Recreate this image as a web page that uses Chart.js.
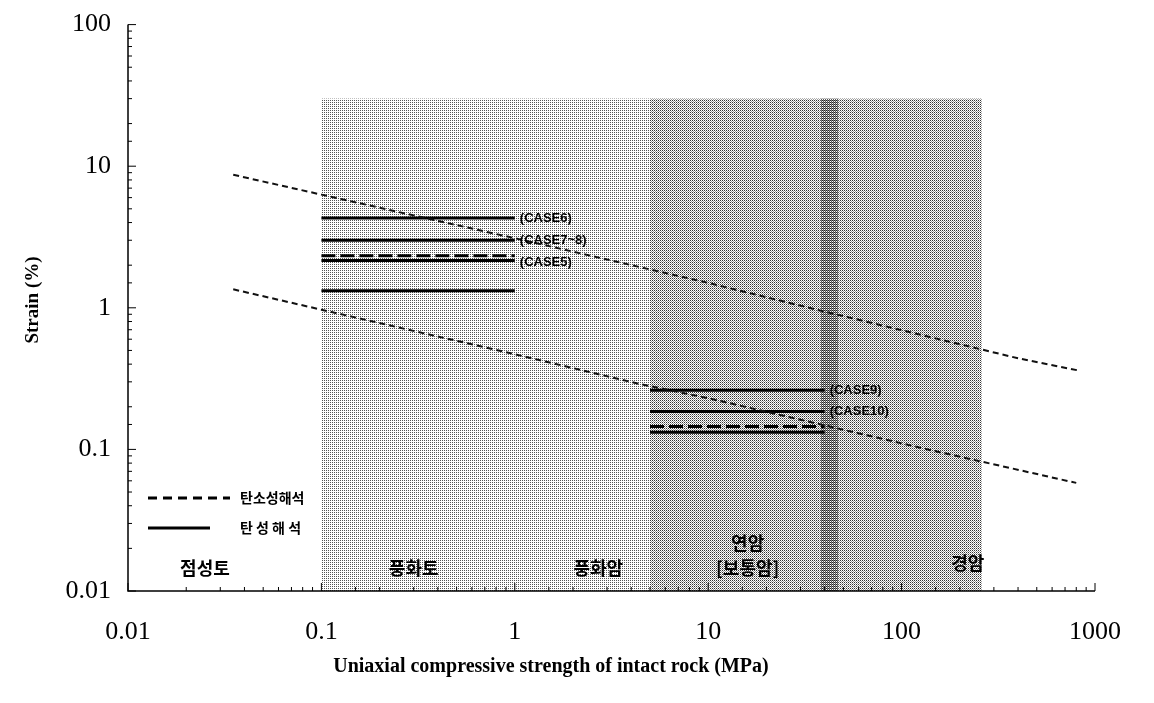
<!DOCTYPE html>
<html>
<head>
<meta charset="utf-8">
<script src="https://cdn.jsdelivr.net/npm/chart.js@4.4.0/dist/chart.umd.min.js"></script>
<style>
html,body{margin:0;padding:0;background:#fff;}
#wrap{width:1154px;height:703px;}
</style>
</head>
<body>
<div id="wrap"><canvas id="myChart" width="1154" height="703"></canvas></div>
<script>
// tick labels
var xTicks = [0.01, 0.1, 1, 10, 100, 1000];
var yTicks = [0.01, 0.1, 1, 10, 100];

// upper / lower bound lines (dashed)
var upperX = [0.035, 0.1, 1, 10, 40, 400, 830];
var upperY = [8.7, 6.3, 3.1, 1.5, 0.94, 0.44, 0.36];
var lowerX = [0.035, 0.1, 1, 4.4, 10, 145, 800];
var lowerY = [1.35, 0.97, 0.47, 0.29, 0.23, 0.098, 0.058];

// weathered soil cases (0.1 ~ 1 MPa)
var soilRange = [0.1, 1];
var soilElastic = [4.3, 3.0, 2.16, 1.32];
var soilPlastic = [2.33];
// soft rock cases (5 ~ 40 MPa)
var rockRange = [5, 40];
var rockElastic = [0.262, 0.185, 0.132];
var rockPlastic = [0.145];

var caseLabels = ['(CASE6)', '(CASE7~8)', '(CASE5)', '(CASE9)', '(CASE10)'];
var caseY = [4.3, 3.0, 2.1, 0.262, 0.185];
var caseX = [1, 1, 1, 40, 40];

// rock class zones
var zoneFrom = [0.1, 5, 38, 47];
var zoneTo = [5, 38, 47, 260];
var zoneTop = 30;

var zoneNames = ['점성토', '풍화토', '풍화암', '연암', '[보통암]', '경암'];
var zoneNameX = [0.025, 0.3, 2.7, 16, 16, 220];
var zoneNameY = [0.0145, 0.0145, 0.0145, 0.0218, 0.0145, 0.0157];

var legendNames = ['탄소성해석', '탄 성 해 석'];

function pts(xs, ys){
    var out = [];
    for (var i = 0; i < xs.length; i++) out.push({x: xs[i], y: ys[i]});
    return out;
}
function flat(range, v){
    return [{x: range[0], y: v}, {x: range[1], y: v}];
}

var datasets = [];
datasets.push({data: pts(upperX, upperY), borderColor:'#111', borderWidth:2, borderDash:[6,4]});
datasets.push({data: pts(lowerX, lowerY), borderColor:'#111', borderWidth:2, borderDash:[6,4]});
soilElastic.forEach(function(v){ datasets.push({data: flat(soilRange, v), borderColor:'#000', borderWidth:3}); });
soilPlastic.forEach(function(v){ datasets.push({data: flat(soilRange, v), borderColor:'#000', borderWidth:3, borderDash:[14,5]}); });
rockElastic.forEach(function(v){ datasets.push({data: flat(rockRange, v), borderColor:'#000', borderWidth:3}); });
rockPlastic.forEach(function(v){ datasets.push({data: flat(rockRange, v), borderColor:'#000', borderWidth:3, borderDash:[14,5]}); });
datasets.forEach(function(d){ d.showLine = true; d.pointRadius = 0; d.fill = false; });

function dots(cells){
    var c = document.createElement('canvas');
    c.width = 2; c.height = 2;
    var g = c.getContext('2d');
    g.fillStyle = '#fff'; g.fillRect(0,0,2,2);
    cells.forEach(function(p){ g.fillStyle = p[2]; g.fillRect(p[0], p[1], 1, 1); });
    return c;
}

function tickLabel(list){
    return function(value){
        for (var i = 0; i < list.length; i++) {
            if (Math.abs(Math.log10(value) - Math.log10(list[i])) < 1e-6) return String(list[i]);
        }
        return '';
    };
}

var decor = {
    id: 'decor',
    beforeDatasetsDraw: function(chart){
        var ctx = chart.ctx, xs = chart.scales.x, ys = chart.scales.y;
        var pats = [
            ctx.createPattern(dots([[0,0,'#555']]), 'repeat'),
            ctx.createPattern(dots([[0,0,'#333'],[1,1,'#999']]), 'repeat'),
            ctx.createPattern(dots([[0,0,'#222'],[1,1,'#555'],[1,0,'#888']]), 'repeat'),
            ctx.createPattern(dots([[0,0,'#333'],[1,1,'#999']]), 'repeat')
        ];
        var yb = ys.getPixelForValue(ys.min), yt = ys.getPixelForValue(zoneTop);
        ctx.save();
        for (var i = 0; i < zoneFrom.length; i++) {
            var x0 = xs.getPixelForValue(zoneFrom[i]), x1 = xs.getPixelForValue(zoneTo[i]);
            ctx.fillStyle = pats[i];
            ctx.fillRect(x0, yt, x1 - x0, yb - yt);
        }
        // axes
        var L = xs.left, R = xs.right, T = ys.top, B = ys.bottom;
        ctx.strokeStyle = '#000';
        ctx.lineWidth = 1.5;
        ctx.beginPath();
        ctx.moveTo(L, T); ctx.lineTo(L, B); ctx.lineTo(R, B);
        ctx.stroke();
        ctx.lineWidth = 1;
        ctx.beginPath();
        ys.ticks.forEach(function(t){
            var p = ys.getPixelForValue(t.value);
            var major = tickLabel(yTicks)(t.value) !== '';
            ctx.moveTo(L, p); ctx.lineTo(L + (major ? 8 : 4), p);
        });
        xs.ticks.forEach(function(t){
            var p = xs.getPixelForValue(t.value);
            var major = tickLabel(xTicks)(t.value) !== '';
            ctx.moveTo(p, B); ctx.lineTo(p, B - (major ? 8 : 4));
        });
        ctx.stroke();
        ctx.restore();
    },
    afterDatasetsDraw: function(chart){
        var ctx = chart.ctx, xs = chart.scales.x, ys = chart.scales.y;
        ctx.save();
        ctx.fillStyle = '#000';
        // case labels
        ctx.font = 'bold 13px "Liberation Sans"';
        ctx.textBaseline = 'middle';
        ctx.textAlign = 'left';
        for (var i = 0; i < caseLabels.length; i++) {
            ctx.fillText(caseLabels[i], xs.getPixelForValue(caseX[i]) + 5, ys.getPixelForValue(caseY[i]));
        }
        // zone names
        ctx.font = 'bold 18px "Noto Sans CJK KR"';
        ctx.textAlign = 'center';
        for (var j = 0; j < zoneNames.length; j++) {
            ctx.fillText(zoneNames[j], xs.getPixelForValue(zoneNameX[j]), ys.getPixelForValue(zoneNameY[j]));
        }
        // legend
        ctx.strokeStyle = '#000';
        ctx.lineWidth = 3;
        ctx.setLineDash([9,6]);
        ctx.beginPath(); ctx.moveTo(148, 498); ctx.lineTo(230, 498); ctx.stroke();
        ctx.setLineDash([]);
        ctx.beginPath(); ctx.moveTo(148, 528); ctx.lineTo(210, 528); ctx.stroke();
        ctx.font = 'bold 14px "Noto Sans CJK KR"';
        ctx.textAlign = 'left';
        ctx.fillText(legendNames[0], 240, 498);
        ctx.fillText(legendNames[1], 240, 528);
        // axis titles
        ctx.font = 'bold 20px "Liberation Serif"';
        ctx.textAlign = 'center';
        ctx.fillText('Uniaxial compressive strength of intact rock (MPa)', 551, 667);
        ctx.translate(33, 300);
        ctx.rotate(-Math.PI / 2);
        ctx.font = 'bold 19px "Liberation Serif"';
        ctx.fillText('Strain (%)', 0, 0);
        ctx.restore();
    }
};

var ctx = document.getElementById('myChart').getContext('2d');
var myChart = new Chart(ctx, {
    type: 'scatter',
    data: {datasets: datasets},
    options: {
        responsive: false,
        animation: false,
        layout: {padding: {left: 10, top: 22, right: 59, bottom: 0}},
        plugins: {legend: {display: false}, tooltip: {enabled: false}},
        scales: {
            x: {
                type: 'logarithmic', min: 0.01, max: 1000,
                grid: {display: false}, border: {display: false},
                ticks: {autoSkip: false, maxRotation: 0, padding: 18, color: '#000',
                        font: {family: 'Liberation Serif', size: 26}, callback: tickLabel(xTicks)},
                afterFit: function(s){ s.height = 112; }
            },
            y: {
                type: 'logarithmic', min: 0.01, max: 100,
                grid: {display: false}, border: {display: false},
                ticks: {autoSkip: false, padding: 9, color: '#000',
                        font: {family: 'Liberation Serif', size: 26}, callback: tickLabel(yTicks)},
                afterFit: function(s){ s.width = 118; }
            }
        }
    },
    plugins: [decor]
});
</script>
</body>
</html>
